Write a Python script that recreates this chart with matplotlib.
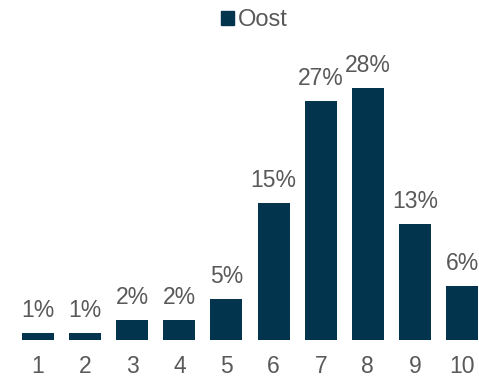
import matplotlib.pyplot as plt
from matplotlib.patches import Patch

# Data
scores = ["1", "2", "3", "4", "5", "6", "7", "8", "9", "10"]
oost = [0.8, 0.8, 2.2, 2.2, 4.6, 15.2, 26.6, 28.0, 12.9, 6.0]
labels = ["1%", "1%", "2%", "2%", "5%", "15%", "27%", "28%", "13%", "6%"]

navy = "#02344d"
grey = "#595959"

plt.rcParams['font.family'] = ['Liberation Sans', 'DejaVu Sans']

fig = plt.figure(figsize=(4.79, 3.77), dpi=100)
ax = fig.add_axes([0, 37 / 377, 1, 300 / 377])

x = list(range(1, len(scores) + 1))
bars = ax.bar(x, oost, width=0.68, color=navy)

for b, lab in zip(bars, labels):
    ax.text(b.get_x() + b.get_width() / 2, b.get_height() + 1.75, lab,
            ha="center", va="baseline", fontsize=16.5, color=grey)

ax.set_xlim(0.193, 10.36)
ax.set_ylim(0, 33.33)
ax.set_xticks(x)
ax.set_xticklabels(scores, fontsize=16.5, color=grey)
ax.tick_params(axis="x", length=0, pad=10.5)
ax.set_yticks([])
for s in ax.spines.values():
    s.set_visible(False)

fig.legend(handles=[Patch(color=navy, label="Oost")], loc="center",
           bbox_to_anchor=(254.5 / 479, 1 - 20 / 377), frameon=False,
           fontsize=17, handlelength=0.54, handleheight=0.54,
           handletextpad=0.17, labelcolor=grey)

fig.savefig("out.png", dpi=100)
